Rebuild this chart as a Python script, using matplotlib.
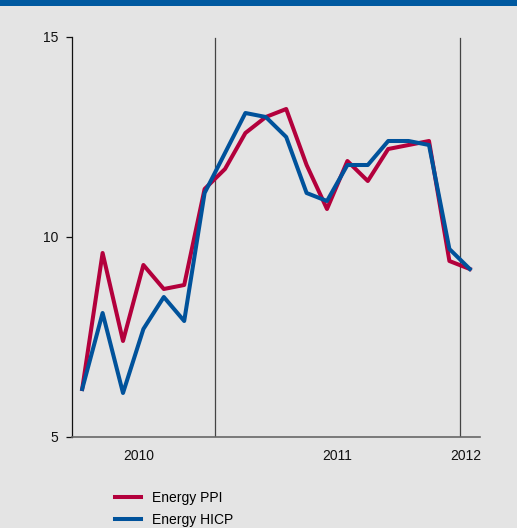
import matplotlib
matplotlib.use('Agg')
import matplotlib.pyplot as plt
from matplotlib.patches import Rectangle

# monthly data, Jun 2010 .. Jan 2012
months = list(range(20))
energy_ppi = [6.2, 9.6, 7.4, 9.3, 8.7, 8.8, 11.2, 11.7, 12.6, 13.0,
              13.2, 11.8, 10.7, 11.9, 11.4, 12.2, 12.3, 12.4, 9.4, 9.2]
energy_hicp = [6.2, 8.1, 6.1, 7.7, 8.5, 7.9, 11.1, 12.1, 13.1, 13.0,
               12.5, 11.1, 10.9, 11.8, 11.8, 12.4, 12.4, 12.3, 9.7, 9.2]
year_breaks = [6.5, 18.5]
year_labels = ["2010", "2011", "2012"]
year_label_pos = [2.75, 12.5, 18.8]
y_ticks = [5, 10, 15]

RED = "#b3003c"
BLUE = "#00529b"
BG = "#e4e4e4"

plt.rcParams['font.family'] = ['Liberation Sans', 'DejaVu Sans']
plt.rcParams['font.size'] = 10

fig = plt.figure(figsize=(5.17, 5.28), dpi=100, facecolor=BG)
ax = fig.add_axes([72 / 517, 91 / 528, 408 / 517, 400 / 528])
ax.set_facecolor(BG)

# top bar
fig.patches.append(Rectangle((0, 1 - 6 / 528), 1, 6 / 528, transform=fig.transFigure,
                             facecolor="#0059a0", edgecolor="none"))

for xb in year_breaks:
    ax.axvline(xb, ymin=0, ymax=0.997, color="#444444", lw=0.9, zorder=1)

ax.plot(months, energy_ppi, color=RED, lw=2.9, label="Energy PPI", zorder=3)
ax.plot(months, energy_hicp, color=BLUE, lw=2.9, label="Energy HICP", zorder=4)

ax.set_xlim(-0.5, 19.5)
ax.set_ylim(5, 15)
ax.set_yticks(y_ticks)
ax.tick_params(axis='y', direction='out', length=4, width=0.9, pad=6, colors='#111111')
ax.set_xticks(year_label_pos)
ax.set_xticklabels(year_labels)
ax.tick_params(axis='x', length=0, pad=9, colors='#111111')

for s in ['top', 'right']:
    ax.spines[s].set_visible(False)
ax.spines['left'].set_color('#111111')
ax.spines['left'].set_linewidth(0.9)
ax.spines['bottom'].set_color('#666666')
ax.spines['bottom'].set_linewidth(1.2)

fig.legend(loc='upper left', bbox_to_anchor=(115 / 517, 1 - 491 / 528),
           frameon=False, borderpad=0, borderaxespad=0, handlelength=1.9,
           handletextpad=0.75, labelspacing=0.55, fontsize=10)

plt.savefig("out.png", dpi=100, facecolor=BG)
plt.close()
